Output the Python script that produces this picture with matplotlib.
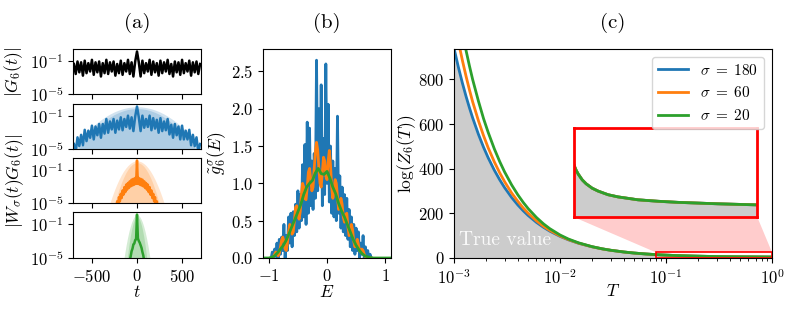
import numpy as np
import matplotlib.pyplot as plt
from matplotlib.patches import Rectangle, Polygon

plt.rcParams.update({
    'font.family': 'serif',
    'font.serif': ['cmr10'],
    'mathtext.fontset': 'cm',
    'axes.formatter.use_mathtext': True,
    'font.size': 12,
})

# ---------- (a) |G_6(t)| and windowed versions, values are log10 ----------
t_20 = np.arange(-700, 701, 20)
g6_log = [-1.4, -2.6, -1.1, -2.4, -1.2, -2.8, -1.0, -2.5, -1.3, -2.3,
          -0.9, -2.7, -1.2, -2.4, -1.1, -2.9, -1.3, -2.5, -0.9, -2.6,
          -1.2, -2.3, -1.1, -2.8, -1.4, -2.5, -1.0, -2.7, -1.3, -2.3,
          -0.9, -2.6, -1.2, -2.9, -1.1, 0.1, -1.2, -2.9, -1.0, -2.5,
          -1.3, -2.3, -0.9, -2.7, -1.1, -2.4, -1.3, -2.8, -1.0, -2.5,
          -1.2, -2.3, -0.9, -2.6, -1.4, -2.9, -1.1, -2.4, -1.2, -2.7,
          -0.9, -2.5, -1.3, -2.3, -1.0, -2.8, -1.2, -2.4, -1.1, -2.6, -1.4]
wg180_log = [-4.4, -5.35, -3.6, -4.65, -3.3, -4.55, -2.7, -4.05, -2.8, -3.65,
             -2.2, -3.85, -2.3, -3.35, -2.0, -3.65, -2.0, -3.15, -1.4, -3.05,
             -1.7, -2.65, -1.4, -3.05, -1.6, -2.65, -1.2, -2.75, -1.4, -2.35,
             -1.0, -2.55, -1.2, -2.85, -1.1, 0.1, -1.2, -2.85, -1.0, -2.45,
             -1.4, -2.35, -1.0, -2.75, -1.3, -2.55, -1.5, -3.05, -1.3, -2.85,
             -1.7, -2.75, -1.4, -3.25, -2.1, -3.65, -2.0, -3.35, -2.3, -3.85,
             -2.2, -3.85, -2.8, -3.85, -2.7, -4.55, -3.3, -4.65, -3.6, -5.35, -4.4]
t_10a = np.arange(-260, 261, 10)
wg60_log = [-6.0, -5.7, -5.3, -5.8, -4.8, -5.3, -4.3, -4.8, -3.9, -4.4,
            -3.5, -4.0, -3.1, -3.7, -2.8, -3.4, -2.6, -3.2, -2.4, -3.0,
            -2.2, -2.9, -2.1, -2.8, -2.0, -2.7, 0.1,
            -2.7, -2.0, -2.8, -2.1, -2.9, -2.2, -3.0, -2.4, -3.2, -2.6,
            -3.4, -2.8, -3.7, -3.1, -4.0, -3.5, -4.4, -3.9, -4.8, -4.3,
            -5.3, -4.8, -5.8, -5.3, -5.7, -6.0]
t_10b = np.arange(-100, 101, 10)
wg20_log = [-8.0, -6.9, -5.3, -4.8, -4.2, -3.9, -3.4, -3.3, -2.9, -2.8, 0.1,
            -2.7, -3.0, -3.2, -3.5, -3.8, -4.3, -4.7, -5.4, -6.9, -8.0]

# window envelopes (outer / inner), log10
env_t180 = np.arange(-750, 751, 50)
env180_out = [-5.44, -4.73, -4.07, -3.46, -2.89, -2.38, -1.91, -1.5, -1.13, -0.81,
              -0.54, -0.32, -0.15, -0.03, 0.05, 0.07, 0.05, -0.03, -0.15, -0.32,
              -0.54, -0.81, -1.13, -1.5, -1.91, -2.38, -2.89, -3.46, -4.07, -4.73, -5.44]
env180_in = [-6.56, -5.74, -4.97, -4.25, -3.6, -3.0, -2.46, -1.97, -1.55, -1.18,
             -0.86, -0.61, -0.41, -0.26, -0.18, -0.15, -0.18, -0.26, -0.41, -0.61,
             -0.86, -1.18, -1.55, -1.97, -2.46, -3.0, -3.6, -4.25, -4.97, -5.74, -6.56]
env_t60 = np.arange(-350, 351, 25)
env60_out = [-6.82, -5.88, -5.0, -4.19, -3.45, -2.79, -2.19, -1.66, -1.2, -0.82,
             -0.5, -0.26, -0.08, 0.02, 0.06, 0.02, -0.08, -0.26, -0.5, -0.82,
             -1.2, -1.66, -2.19, -2.79, -3.45, -4.19, -5.0, -5.88, -6.82]
env60_in = [-10.0, -8.7, -7.4, -6.26, -5.2, -4.24, -3.38, -2.62, -1.97, -1.41,
            -0.96, -0.6, -0.35, -0.2, -0.15, -0.2, -0.35, -0.6, -0.96, -1.41,
            -1.97, -2.62, -3.38, -4.24, -5.2, -6.26, -7.4, -8.7, -10.0]
env_t20 = np.arange(-165, 166, 15)
env20_out = [-6.6, -5.44, -4.4, -3.46, -2.63, -1.91, -1.31, -0.81, -0.43, -0.15,
             0.01, 0.07, 0.01, -0.15, -0.43, -0.81, -1.31, -1.91, -2.63, -3.46,
             -4.4, -5.44, -6.6]
env20_in = [-11.5, -9.5, -7.73, -6.14, -4.74, -3.52, -2.49, -1.65, -0.99, -0.52,
            -0.24, -0.15, -0.24, -0.52, -0.99, -1.65, -2.49, -3.52, -4.74, -6.14,
            -7.73, -9.5, -11.5]

# ---------- (b) smoothed density of states ----------
E_fine = np.linspace(-0.96, 0.76, 87)
dos180 = [0.0, 0.08, 0.0, 0.12, 0.02, 0.2, 0.0, 0.25, 0.05, 0.28,
          0.1, 0.45, 0.0, 0.3, 0.1, 0.55, 0.2, 0.6, 0.15, 0.62,
          0.3, 0.72, 0.35, 0.9, 0.4, 0.85, 0.5, 1.25, 0.55, 1.52,
          0.45, 1.82, 0.6, 1.74, 0.7, 1.3, 0.65, 1.4, 0.8, 2.65,
          0.9, 2.0, 1.1, 2.32, 0.7, 1.6, 0.85, 2.6, 1.0, 2.06,
          0.75, 1.5, 0.6, 1.3, 0.55, 1.2, 0.5, 1.9, 0.6, 1.1,
          0.4, 0.95, 0.35, 0.85, 0.3, 0.8, 0.25, 0.65, 0.15, 0.55,
          0.1, 0.45, 0.05, 0.4, 0.1, 0.35, 0.0, 0.2, 0.05, 0.3,
          0.0, 0.15, 0.0, 0.1, 0.0, 0.05, 0.0]
dos60 = [0.0, 0.0, 0.02, 0.05, 0.08, 0.06, 0.03, 0.06, 0.15, 0.24,
         0.28, 0.22, 0.12, 0.1, 0.2, 0.35, 0.45, 0.42, 0.32, 0.35,
         0.5, 0.68, 0.7, 0.6, 0.52, 0.62, 0.85, 1.0, 0.95, 0.8,
         0.78, 0.95, 1.15, 1.2, 1.05, 0.9, 0.95, 1.2, 1.42, 1.55,
         1.45, 1.2, 1.0, 0.95, 1.15, 1.35, 1.3, 1.1, 1.05, 1.3,
         1.44, 1.25, 0.95, 0.8, 0.9, 1.05, 1.0, 0.82, 0.65, 0.7,
         0.8, 0.72, 0.55, 0.48, 0.58, 0.6, 0.42, 0.3, 0.35, 0.45,
         0.38, 0.22, 0.15, 0.2, 0.25, 0.18, 0.1, 0.08, 0.12, 0.1,
         0.05, 0.02, 0.01, 0.0, 0.0, 0.0, 0.0]
E_coarse = np.linspace(-1.1, 1.1, 45)
dos20 = [0, 0, 0.0, 0.01, 0.03, 0.07, 0.12, 0.17, 0.24, 0.33,
         0.43, 0.52, 0.62, 0.72, 0.85, 0.95, 1.0, 1.04, 1.14, 1.2,
         1.13, 1.12, 1.16, 1.07, 0.95, 0.86, 0.73, 0.63, 0.55, 0.45,
         0.35, 0.25, 0.17, 0.11, 0.06, 0.03, 0.015, 0.005, 0, 0,
         0, 0, 0, 0, 0]

# ---------- (c) log partition function ----------
T = [1.0e-3, 1.1e-3, 1.2e-3, 1.3e-3, 1.4e-3, 1.5e-3, 1.7e-3, 1.9e-3, 2.1e-3, 2.4e-3,
     2.7e-3, 3.0e-3, 3.5e-3, 4.0e-3, 4.5e-3, 5.0e-3, 6.0e-3, 7.0e-3, 8.0e-3, 1.0e-2,
     1.2e-2, 1.5e-2, 2.0e-2, 2.5e-2, 3.0e-2, 4.0e-2, 5.0e-2, 6.5e-2, 8.0e-2, 9.0e-2,
     0.1, 0.12, 0.14, 0.17, 0.2, 0.25, 0.3, 0.4, 0.5, 0.6, 0.8, 1.0]
tail = [12.9, 11.3, 10.2, 9.0, 8.2, 7.2, 6.6, 5.8, 5.4, 5.1, 4.7, 4.4]
logz_true = [935, 850, 780, 720, 669, 624.4, 551.3, 493.6, 447, 391.5,
             348.5, 314, 269.6, 236.3, 210.5, 189.8, 158.7, 136.5, 119.9, 96.6,
             81.1, 65.6, 50.1, 40.7, 34.5, 26.8, 22.1, 17.8, 15.1, 13.8,
             12.85, 11.25, 10.15, 8.97, 8.18, 7.18, 6.58, 5.79, 5.39, 5.09, 4.69, 4.39]
logz180 = [939.5, 854.4, 783.5, 723.5, 672.1, 627.5, 554.1, 496.1, 449.2, 393.5,
           350.2, 315.5, 270.9, 237.5, 211.5, 190.7, 159.5, 137.2, 120.5, 97.1,
           81.5, 65.9, 50.3, 40.9, 34.7, 26.9, 22.2, 17.9, 15.2, 13.9] + tail
logz60 = [1070.5, 969.3, 884.9, 813.5, 752.3, 699.3, 614.7, 547.8, 493.8, 430.6,
          381.4, 342.0, 291.0, 253.9, 224.0, 201.0, 166.5, 141.9, 124.0, 99.0,
          82.7, 66.5, 50.5, 40.9, 34.7, 26.9, 22.2, 17.9, 15.2, 13.9] + tail
logz20 = [1220.3, 1105.4, 1009.7, 928.7, 859.3, 799.1, 702.8, 624.2, 562.9, 489.1,
          431.7, 385.7, 327.1, 283.1, 248.9, 221.6, 181.3, 152.6, 131.6, 103.2,
          85.0, 67.8, 51.0, 41.1, 34.7, 26.9, 22.2, 17.9, 15.2, 13.9] + tail
sigmas = [180, 60, 20]

c0, c1, c2 = '#1f77b4', '#ff7f0e', '#2ca02c'
lab_fs = 12.5

fig = plt.figure(figsize=(7.93, 3.12), dpi=100)
W, H = 793, 312


def box(x0, y0, x1, y1):
    # pixel box (top-left origin) -> figure fraction
    return [x0 / W, 1 - y1 / H, (x1 - x0) / W, (y1 - y0) / H]


def ftext(x, y, s, **kw):
    # text placed by pixel position (top-left origin)
    fig.text(x / W, 1 - y / H, s, ha='center', va='center', **kw)


rows = [(49, 94), (104, 149), (158, 203), (212, 258)]
axa = [fig.add_axes(box(73, r0, 201, r1)) for r0, r1 in rows]
for ax in axa:
    ax.set_yscale('log')
    ax.set_xlim(-710, 710)
    ax.set_ylim(1e-5, 2.5)
    ax.set_yticks([1e-5, 1e-1])
    ax.minorticks_off()
    ax.set_xticks([-500, 0, 500])
for ax in axa[:-1]:
    ax.set_xticklabels([])

axa[0].plot(t_20, 10 ** np.array(g6_log), color='k', lw=1.8)
series = [(t_20, wg180_log, env_t180, env180_out, env180_in, c0),
          (t_10a, wg60_log, env_t60, env60_out, env60_in, c1),
          (t_10b, wg20_log, env_t20, env20_out, env20_in, c2)]
for ax, (tt, yy, te, eo, ei, col) in zip(axa[1:], series):
    ax.fill_between(te, 1e-12, 10 ** np.array(eo), color=col, alpha=0.2, lw=0)
    ax.fill_between(te, 1e-12, 10 ** np.array(ei), color=col, alpha=0.2, lw=0)
    ax.plot(tt, 10 ** np.array(yy), color=col, lw=1.8)
ftext(137, 292, r'$t$', fontsize=lab_fs)
ftext(14, 71.5, r'$|G_6(t)|$', rotation=90, fontsize=lab_fs)
ftext(15, 181, r'$|W_\sigma(t)G_6(t)|$', rotation=90, fontsize=lab_fs)
ftext(137, 23, '(a)', fontsize=15)

# (b)
axb = fig.add_axes(box(263, 49, 391, 258))
axb.plot(E_fine, dos180, color=c0, lw=2)
axb.plot(E_fine, dos60, color=c1, lw=2)
axb.plot(E_coarse, dos20, color=c2, lw=2)
axb.set_xlim(-1.1, 1.1)
axb.set_ylim(0, 2.8)
axb.set_xticks([-1, 0, 1])
axb.set_yticks([0, 0.5, 1.0, 1.5, 2.0, 2.5])
ftext(327, 292, r'$E$', fontsize=lab_fs)
ftext(217, 153.5, r'$\tilde{g}_6^\sigma(E)$', rotation=90, fontsize=lab_fs)
ftext(327, 23, '(b)', fontsize=15)

# (c)
axc = fig.add_axes(box(454, 49, 772, 258))
axc.set_xscale('log')
axc.fill_between(T, 0, logz_true, color='0.8', lw=0)
for vals, s, col in zip([logz180, logz60, logz20], sigmas, [c0, c1, c2]):
    axc.plot(T, vals, color=col, lw=2, label=r'$\sigma\;=\;%d$' % s)
axc.set_xlim(1e-3, 1)
axc.set_ylim(0, 936)
axc.set_yticks([0, 200, 400, 600, 800])
ftext(613, 291, r'$T$', fontsize=lab_fs)
ftext(407, 153.5, r'$\log(Z_6(T))$', rotation=90, fontsize=lab_fs)
axc.text(0.016, 0.085, 'True value', transform=axc.transAxes, color='white',
         alpha=0.9, fontsize=14, ha='left', va='center')
axc.legend(loc='upper right', fontsize=11)
ftext(613, 23, '(c)', fontsize=15)

# zoom inset
zx0, zx1, zy0, zy1 = 0.08, 1.0, 1.0, 25.5
ins = [0.378, 0.195, 0.576, 0.426]
axi = axc.inset_axes(ins)
axi.fill_between(T, 0, logz_true, color='0.8', lw=0)
for vals, col in zip([logz180, logz60, logz20], [c0, c1, c2]):
    axi.plot(T, vals, color=col, lw=2)
axi.set_xlim(zx0, zx1)
axi.set_ylim(zy0, zy1)
axi.set_xticks([])
axi.set_yticks([])
for sp in axi.spines.values():
    sp.set_color('red')
    sp.set_linewidth(2)

axc.add_patch(Rectangle((zx0, zy0), zx1 - zx0, zy1 - zy0, fill=False,
                        edgecolor='red', lw=1.2, zorder=4))
to_axes = axc.transData + axc.transAxes.inverted()
tl = to_axes.transform((zx0, zy1))
tr = to_axes.transform((zx1, zy1))
poly = Polygon([(ins[0], ins[1]), (ins[0] + ins[2], ins[1]), tr, tl],
               closed=True, transform=axc.transAxes, facecolor='red',
               alpha=0.2, edgecolor='none', zorder=3)
axc.add_patch(poly)

fig.savefig('out.png', dpi=100)
